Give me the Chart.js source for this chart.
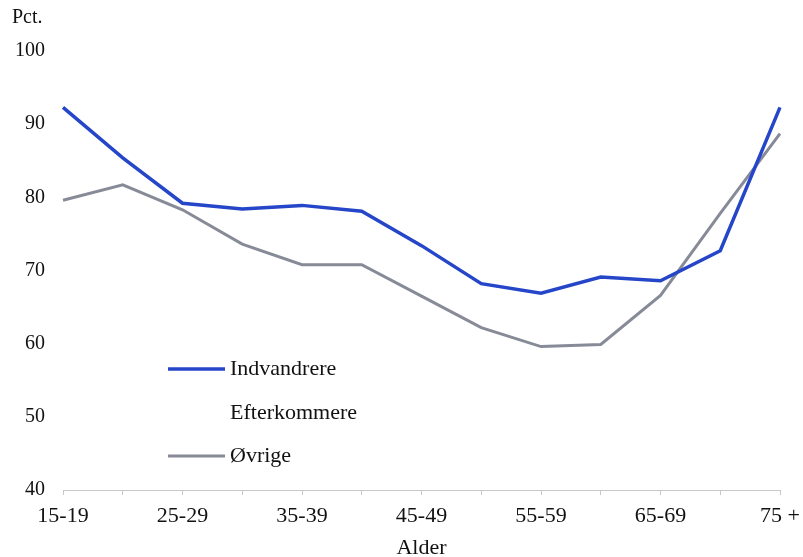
<!DOCTYPE html>
<html>
<head>
<meta charset="utf-8">
<script src="https://cdn.jsdelivr.net/npm/chart.js@4"></script>
<style>
  html, body { margin: 0; padding: 0; background: #fff; }
  #wrap { width: 803px; height: 557px; }
</style>
</head>
<body>
<div id="wrap"><canvas id="c" width="803" height="557"></canvas></div>
<script>
// age groups (x axis)
const ageGroups = ["15-19", "20-24", "25-29", "30-34", "35-39", "40-44", "45-49",
  "50-54", "55-59", "60-64", "65-69", "70-74", "75 +"];
// percent
const indvandrere = [92.3, 85.4, 79.2, 78.4, 78.9, 78.1, 73.4, 68.2, 66.9, 69.1, 68.6, 72.7, 92.3];
const efterkommere = []; // no visible line in the original
const oevrige = [79.6, 81.7, 78.3, 73.6, 70.8, 70.8, 66.5, 62.2, 59.6, 59.9, 66.6, 77.8, 88.7];
const yTicks = [40, 50, 60, 70, 80, 90, 100];

const FONT = "'Liberation Serif', 'Times New Roman', serif";
const BLUE = "#2546c8";
const GREY = "#878b98";

// legend sits inside the plot, drawn by hand
const insideLegend = {
  id: "insideLegend",
  afterDraw(chart) {
    const ctx = chart.ctx;
    const a = chart.chartArea;
    const x0 = a.left + 105, x1 = a.left + 162;
    const rows = [a.top + 318, a.top + 362, a.top + 405];
    ctx.save();
    ctx.font = "22px " + FONT;
    ctx.textBaseline = "middle";
    chart.data.datasets.forEach((ds, i) => {
      const y = rows[i];
      if (ds.data.length) {
        ctx.strokeStyle = ds.borderColor;
        ctx.lineWidth = ds.borderWidth;
        ctx.beginPath();
        ctx.moveTo(x0, y);
        ctx.lineTo(x1, y);
        ctx.stroke();
      }
      ctx.fillStyle = "#111";
      ctx.fillText(ds.label, x1 + 5, y);
    });
    // unit label above the y axis
    ctx.font = "20px " + FONT;
    ctx.textBaseline = "middle";
    ctx.fillText("Pct.", 12, 18);
    ctx.restore();
  }
};

new Chart(document.getElementById("c"), {
  type: "line",
  data: {
    labels: ageGroups,
    datasets: [
      { label: "Indvandrere", data: indvandrere, borderColor: BLUE, borderWidth: 3.5 },
      { label: "Efterkommere", data: efterkommere, borderColor: "rgba(0,0,0,0)", borderWidth: 0 },
      { label: "Øvrige", data: oevrige, borderColor: GREY, borderWidth: 3 }
    ]
  },
  options: {
    responsive: false,
    animation: false,
    devicePixelRatio: 1,
    layout: { padding: { top: 51, right: 23, left: 0, bottom: 0 } },
    elements: { point: { radius: 0 }, line: { tension: 0 } },
    plugins: { legend: { display: false }, tooltip: { enabled: false } },
    scales: {
      x: {
        offset: false,
        afterFit(s) { s.height = 67; s.paddingLeft = 0; s.paddingRight = 0; },
        grid: { drawOnChartArea: false, drawTicks: true, tickLength: 5, color: "#c8c8c8" },
        border: { color: "#c8c8c8", width: 1 },
        ticks: {
          autoSkip: false, maxRotation: 0, padding: 8, color: "#111",
          font: { family: FONT, size: 22 },
          callback(v, i) { return i % 2 === 0 ? ageGroups[i] : ""; }
        },
        title: { display: true, text: "Alder", color: "#111", padding: 0,
          font: { family: FONT, size: 22, lineHeight: 0.8 } }
      },
      y: {
        min: 40, max: 100,
        afterFit(s) { s.width = 63; },
        afterBuildTicks(s) { s.ticks = yTicks.map(v => ({ value: v })); },
        grid: { display: false, drawTicks: false },
        border: { display: false },
        ticks: { padding: 18, color: "#111", font: { family: FONT, size: 20 } }
      }
    }
  },
  plugins: [insideLegend]
});
</script>
</body>
</html>
